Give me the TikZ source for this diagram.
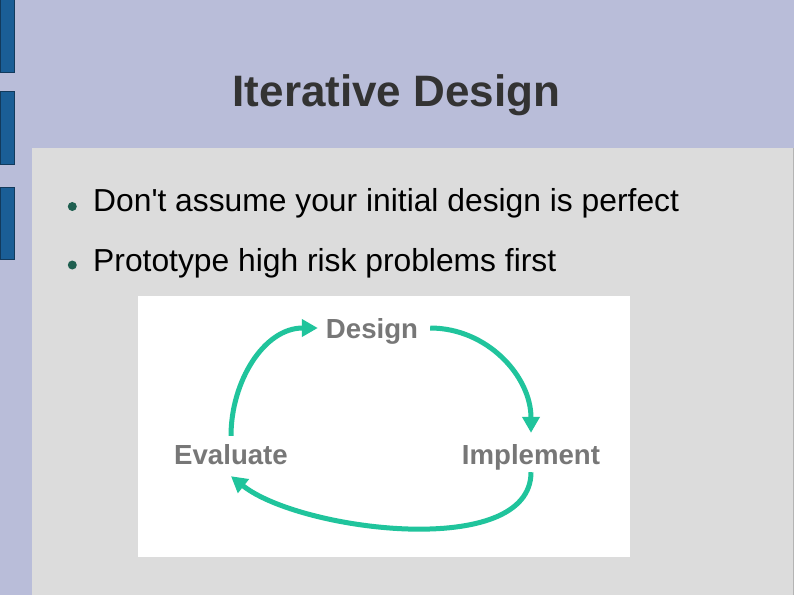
\documentclass[tikz,border=0pt]{standalone}
\usepackage{fontspec}
\setmainfont{Liberation Sans}
\usepackage{xcolor}
\usepackage{tikz}
\usetikzlibrary{arrows.meta,positioning,calc}
\definecolor{band}{HTML}{B9BDD9}
\definecolor{panel}{HTML}{DCDCDC}
\definecolor{paneledge}{HTML}{B4B4B4}
\definecolor{barfill}{HTML}{1A5E96}
\definecolor{baredge}{HTML}{123A5C}
\definecolor{titlegray}{HTML}{333333}
\definecolor{dotgreen}{HTML}{1F5F50}
\definecolor{labelgray}{HTML}{777777}
\definecolor{teal}{HTML}{20C49C}
\tikzset{
  sidebar/.style={fill=barfill, draw=baredge, line width=0.8pt},
  titletext/.style={text=titlegray, font=\bfseries\fontsize{44}{48}\selectfont, inner sep=0pt, anchor=base},
  bullet/.style={circle, fill=dotgreen, minimum size=9pt, inner sep=0pt},
  itemtext/.style={text=black, font=\fontsize{31.8}{36}\selectfont, inner sep=0pt, anchor=base west},
  steplabel/.style={text=labelgray, font=\bfseries\fontsize{27.6}{30}\selectfont, text height=20pt, text depth=0pt, inner sep=2pt, anchor=base},
  cyclearr/.style={-{Triangle[length=16pt,width=17pt]}, draw=teal, line width=5pt}
}

\begin{document}
\begin{tikzpicture}[x=1pt, y=1pt]
  \useasboundingbox (0,0) rectangle (794,-595);
  \fill[band] (0,0) rectangle (794,-595);
  \fill[panel] (32,-148) rectangle (794,-595);
  \draw[paneledge, line width=1pt] (793,-148) -- (793,-595);

  \draw[sidebar] (0.4,2) rectangle (14.5,-72);
  \draw[sidebar] (0.4,-91.5) rectangle (14.5,-164);
  \draw[sidebar] (0.4,-187.5) rectangle (14.5,-259);

  \node[titletext] (title) at (396.5,-106.7) {Iterative Design};

  \node[bullet] (dot1) at (72.3,-206.5) {};
  \node[bullet] (dot2) at (72.3,-265) {};
  \node[itemtext] (item1) at (93,-211) {Don\textquotesingle t assume your initial design is perfect};
  \node[itemtext] (item2) at (93,-271) {Prototype high risk problems first};

  \fill[white] (138,-296) rectangle (630,-557);

  \node[steplabel] (design) at (372,-338) {Design};
  \node[steplabel] (evaluate) at (231,-464) {Evaluate};
  \node[steplabel] (implement) at (531,-464) {Implement};

  \draw[cyclearr] ([yshift=6pt]evaluate.north) to[out=90, in=180] ([xshift=-6pt]design.west);
  \draw[cyclearr] ([xshift=10pt]design.east) to[out=0, in=90] ([yshift=9pt]implement.north);
  \draw[cyclearr] ([yshift=-6pt]implement.south) .. controls +(0,-88) and +(69,-55) .. ([yshift=-10pt]evaluate.south);
\end{tikzpicture}
\end{document}
